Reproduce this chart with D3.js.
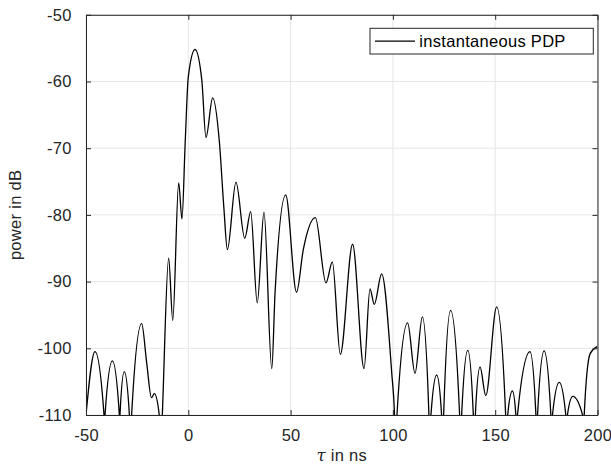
<!DOCTYPE html>
<html>
<head>
<meta charset="utf-8">
<script src="https://cdn.jsdelivr.net/npm/d3@7"></script>
<style>
  body { margin: 0; background: #fff; }
  svg { font-family: "Liberation Sans", Arial, sans-serif; letter-spacing: 0.3px; }
  .grid line { stroke: #e6e6e6; stroke-width: 1; }
  .tick text { fill: #262626; font-size: 16.5px; }
</style>
</head>
<body>
<div id="chart"></div>
<script>
// delay (ns) and power (dB): peaks, nulls and the places where the
// trace meets the -110 dB floor
const delayNs = [
  -50, -45.6, -41.2, -41.0, -40.7, -37.1, -33.7, -33.55, -33.4, -31.3,
  -28.8, -28.3, -27.7, -22.8, -20.3, -18.0, -16.6, -14.2, -13.5, -12.7,
  -9.6, -7.6, -4.7, -3.1, -1.5, 0.0, 3.3, 6.6, 8.65, 11.9, 15.2, 17.4,
  19.1, 23.3, 27.6, 30.5, 33.7, 37.0, 40.8, 42.4, 47.6, 52.9, 56.2,
  62.1, 67.3, 70.4, 74.3, 80.3, 85.9, 88.8, 90.9, 94.5, 99.4,
  100.8, 101.4, 102.0, 107.2, 110.8, 114.4, 117.6, 118.1, 118.6, 121.4,
  123.8, 124.3, 124.8, 128.2, 132.6, 133.1, 133.6, 136.6, 139.3, 139.8,
  140.3, 142.6, 145.4, 150.7, 155.1, 155.6, 156.1, 158.4, 160.1, 160.5,
  160.9, 167.0, 169.9, 170.3, 170.7, 173.9, 177.2, 177.6, 178.0, 181.3,
  184.5, 184.9, 185.3, 187.9, 192.7, 193.1, 193.5, 196.4, 200
];
const powerDb = [
  -110, -100.5, -110, -116, -110, -101.9, -110, -115, -110, -103.5,
  -110, -116, -110, -96.3, -102.3, -107.4, -106.8, -110, -116, -110,
  -86.5, -95.8, -75.2, -80.6, -69, -59.3, -55.2, -59.8, -68.4, -62.45, -69.1, -79,
  -85.2, -75.1, -83.5, -79.5, -93.2, -79.6, -103.05, -91.7, -77.0, -91.6, -85.2,
  -80.4, -90.2, -87.05, -100.9, -84.4, -103.05, -91.1, -93.4, -88.85, -103.6,
  -110, -116, -110, -96.2, -103.75, -95.3, -110, -115, -110, -104.0,
  -110, -115, -110, -94.3, -110, -115, -110, -100.3, -110, -115,
  -110, -102.8, -107.1, -93.8, -110, -115, -110, -106.4, -110, -115,
  -110, -100.5, -110, -115, -110, -100.4, -110, -115, -110, -105.1,
  -110, -115, -110, -107.2, -110, -115, -110, -100.8, -99.7
];
const xTicks = [-50, 0, 50, 100, 150, 200];
const yTicks = [-110, -100, -90, -80, -70, -60, -50];
const legendLabel = "instantaneous PDP";

const width = 611, height = 467;
const margin = { top: 14.8, right: 13.5, bottom: 52, left: 86 };
const w = width - margin.left - margin.right;
const h = height - margin.top - margin.bottom;

const svg = d3.select("#chart").append("svg")
    .attr("width", width)
    .attr("height", height);

const g = svg.append("g")
    .attr("transform", `translate(${margin.left},${margin.top})`);

const x = d3.scaleLinear().domain([-50, 200]).range([0, w]);
const y = d3.scaleLinear().domain([-110, -50]).range([h, 0]);

// plain hyphen for negative labels, like the original
const fmt = d => String(d);

// grid
g.append("g").attr("class", "grid")
    .selectAll("line").data(xTicks).enter().append("line")
    .attr("x1", d => x(d)).attr("x2", d => x(d))
    .attr("y1", 0).attr("y2", h);
g.append("g").attr("class", "grid")
    .selectAll("line").data(yTicks).enter().append("line")
    .attr("x1", 0).attr("x2", w)
    .attr("y1", d => y(d)).attr("y2", d => y(d));

// data line, clipped to the axes box
svg.append("clipPath").attr("id", "clip")
  .append("rect").attr("width", w).attr("height", h);

const points = delayNs.map((t, i) => [t, powerDb[i]]);
const line = d3.line()
    .x(d => x(d[0]))
    .y(d => y(d[1]))
    .curve(d3.curveMonotoneX);

g.append("path")
    .datum(points)
    .attr("clip-path", "url(#clip)")
    .attr("fill", "none")
    .attr("stroke", "#000")
    .attr("stroke-width", 1.3)
    .attr("stroke-linejoin", "round")
    .attr("d", line);

// axes, ticks inward on all four sides
const tickLen = 5;
const styleAxis = sel => {
    sel.select(".domain").attr("stroke", "#262626");
    sel.selectAll(".tick line").attr("stroke", "#262626");
};
g.append("g").attr("transform", `translate(0,${h})`)
    .call(d3.axisBottom(x).tickValues(xTicks).tickFormat(fmt).tickSizeInner(-tickLen).tickSizeOuter(0).tickPadding(14.3))
    .call(styleAxis);
g.append("g")
    .call(d3.axisTop(x).tickValues(xTicks).tickSizeInner(-tickLen).tickSizeOuter(0).tickFormat(""))
    .call(styleAxis);
g.append("g")
    .call(d3.axisLeft(y).tickValues(yTicks).tickFormat(fmt).tickSizeInner(-tickLen).tickSizeOuter(0).tickPadding(14.3))
    .call(styleAxis);
g.append("g").attr("transform", `translate(${w},0)`)
    .call(d3.axisRight(y).tickValues(yTicks).tickSizeInner(-tickLen).tickSizeOuter(0).tickFormat(""))
    .call(styleAxis);

// axis titles
const xTitle = svg.append("text")
    .attr("x", margin.left + w / 2)
    .attr("y", 461)
    .attr("text-anchor", "middle")
    .attr("fill", "#262626")
    .style("font-size", "16.5px");
xTitle.append("tspan").attr("font-family", "DejaVu Serif, serif").attr("font-style", "italic").text("τ");
xTitle.append("tspan").text(" in ns");

svg.append("text")
    .attr("transform", `translate(21,${margin.top + h / 2}) rotate(-90)`)
    .attr("text-anchor", "middle")
    .attr("fill", "#262626")
    .style("font-size", "16.5px")
    .text("power in dB");

// legend
const legend = svg.append("g").attr("transform", "translate(370,28.3)");
legend.append("rect")
    .attr("width", 223.3).attr("height", 25.7)
    .attr("fill", "#fff").attr("stroke", "#262626").attr("stroke-width", 1);
legend.append("line")
    .attr("x1", 5).attr("x2", 45).attr("y1", 12.8).attr("y2", 12.8)
    .attr("stroke", "#000").attr("stroke-width", 1.3);
legend.append("text")
    .attr("x", 49.3).attr("y", 18.7)
    .attr("fill", "#000")
    .style("font-size", "16.5px")
    .text(legendLabel);
</script>
</body>
</html>
